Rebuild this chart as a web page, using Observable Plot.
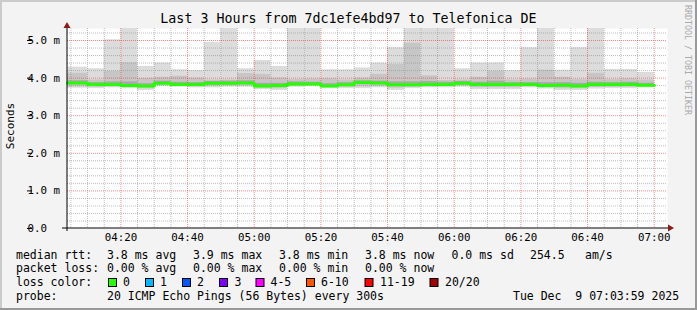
<!DOCTYPE html>
<html><head><meta charset="utf-8">
<script src="https://cdn.jsdelivr.net/npm/d3@7"></script>
<script src="https://cdn.jsdelivr.net/npm/@observablehq/plot@0.6"></script>
<style>
html,body{margin:0;padding:0;background:#f3f3f3;}
#chart{width:697px;height:310px;}
</style></head><body><div id="chart"></div>
<script>
// ---- data (ms) ----
const slotEnds = ["04:10","04:15","04:20","04:25","04:30","04:35","04:40","04:45","04:50","04:55",
  "05:00","05:05","05:10","05:15","05:20","05:25","05:30","05:35","05:40","05:45","05:50","05:55",
  "06:00","06:05","06:10","06:15","06:20","06:25","06:30","06:35","06:40","06:45","06:50","06:55","07:00"];
const maxRtt    = [4.29,4.25,5.02,5.33,4.31,4.40,4.22,4.20,4.95,5.33,4.25,4.47,4.31,5.33,5.33,4.22,4.22,4.27,4.40,4.81,5.33,5.33,5.33,4.25,4.40,4.40,4.20,4.81,5.33,4.21,4.81,5.33,4.23,4.23,4.15];
const upperMid  = [4.13,3.95,4.18,4.41,3.99,4.02,4.05,4.00,3.95,3.95,4.12,4.10,4.00,3.96,3.97,3.98,3.95,4.00,4.10,4.36,4.93,4.06,3.94,3.95,4.02,4.18,3.95,3.97,4.21,4.02,3.96,4.13,3.96,3.98,3.95];
const upperInner= [3.93,3.88,3.90,3.90,3.85,3.92,3.89,3.88,3.91,3.92,3.93,3.86,3.86,3.90,3.89,3.85,3.88,3.93,3.92,3.90,3.90,3.91,3.89,3.91,3.89,3.92,3.88,3.88,3.88,3.88,3.86,3.89,3.88,3.89,3.86];
const medianRtt = [3.87,3.83,3.83,3.80,3.79,3.86,3.83,3.83,3.86,3.86,3.87,3.79,3.80,3.84,3.84,3.79,3.82,3.88,3.87,3.82,3.82,3.83,3.83,3.86,3.83,3.83,3.83,3.83,3.80,3.81,3.79,3.83,3.83,3.83,3.81];
const lowerInner= [3.83,3.79,3.79,3.76,3.75,3.83,3.80,3.80,3.82,3.83,3.83,3.76,3.76,3.80,3.81,3.76,3.79,3.84,3.83,3.78,3.79,3.80,3.80,3.82,3.79,3.79,3.79,3.79,3.77,3.77,3.75,3.79,3.79,3.79,3.77];
const lowerMid  = [3.77,3.76,3.77,3.75,3.72,3.80,3.78,3.77,3.78,3.79,3.79,3.73,3.72,3.79,3.80,3.75,3.76,3.77,3.78,3.73,3.76,3.77,3.78,3.79,3.74,3.74,3.74,3.77,3.74,3.72,3.72,3.75,3.76,3.76,3.77];
const minRtt    = [3.73,3.72,3.74,3.72,3.67,3.78,3.76,3.74,3.74,3.76,3.76,3.69,3.67,3.76,3.78,3.72,3.72,3.72,3.74,3.67,3.72,3.74,3.74,3.76,3.69,3.69,3.69,3.74,3.71,3.67,3.67,3.71,3.72,3.72,3.74];
const yTicks = [0,1,2,3,4,5];
const yTickLabels = ["0.0","1.0 m","2.0 m","3.0 m","4.0 m","5.0 m"];
const titleText = "Last 3 Hours from 7dc1efe4bd97 to Telefonica DE";
const lossLabels = ["0","1","2","3","4-5","6-10","11-19","20/20"];
const lossColors = ["#26ff00","#00b8ff","#0059ff","#7e00ff","#ff00ff","#ff5500","#ff0000","#a10000"];

const day = "2025-12-09T";
const t = s => new Date(day + s + ":00Z");
const start = new Date("2025-12-09T04:03:59Z"), end = new Date("2025-12-09T07:03:59Z");
const data = slotEnds.map((e,i)=>({
  x1: i===0 ? start : t(slotEnds[i-1]), x2: t(e),
  max: maxRtt[i], um: upperMid[i], ui: upperInner[i], med: medianRtt[i],
  li: lowerInner[i], lm: lowerMid[i], min: minRtt[i]}));
const medLine = data.map(d=>({t:d.x1, v:d.med})).concat([{t:data[data.length-1].x2, v:data[data.length-1].med}]);

const yTop = 200/37.6;
const minorX = d3.utcMinute.every(5).range(start, end).filter(d=>d.getUTCMinutes()%20!==0);
const majorX = d3.utcMinute.every(20).range(start, end);
const minorY = d3.range(1, 27).map(i=>i/5).filter(v=>Math.abs(v-Math.round(v))>1e-6 && v<yTop);
const majorY = [1,2,3,4,5];

const plot = Plot.plot({
  width: 697, height: 310,
  marginLeft: 67, marginRight: 30, marginTop: 28, marginBottom: 82,
  style: {background: "#f3f3f3", fontFamily: "DejaVu Sans Mono", fontSize: "10.8px", color: "#000", overflow: "visible"},
  x: {type: "utc", domain: [start, end]},
  y: {domain: [0, yTop]},
  marks: [
    Plot.frame({fill: "white", stroke: "none"}),
    Plot.rect(data, {x1: "x1", x2: "x2", y1: "min", y2: "max", fill: "#dcdcdc", clip: true}),
    Plot.rect(data, {x1: "x1", x2: "x2", y1: "lm", y2: "um", fill: "#c6c6c6", clip: true}),
    Plot.rect(data, {x1: "x1", x2: "x2", y1: "li", y2: "ui", fill: "#a9a9a9", clip: true}),
    Plot.ruleX(minorX, {stroke: "#888", strokeOpacity: 0.55, strokeDasharray: "1,1"}),
    Plot.ruleY(minorY, {stroke: "#888", strokeOpacity: 0.55, strokeDasharray: "1,1"}),
    Plot.ruleX(majorX, {stroke: "#ff0000", strokeOpacity: 0.45, strokeDasharray: "1,1"}),
    Plot.ruleY(majorY, {stroke: "#ff0000", strokeOpacity: 0.45, strokeDasharray: "1,1"}),
    Plot.line(medLine, {x: "t", y: "v", curve: "step-after", stroke: "#26ff00", strokeWidth: 3}),
    Plot.axisX(majorX, {tickFormat: d3.utcFormat("%H:%M"), tickSize: 0, tickPadding: 5, fontSize: "10.8px"}),
    Plot.axisY(yTicks, {tickFormat: (d,i)=>yTickLabels[yTicks.indexOf(d)], tickSize: 5, tickPadding: 0, textAnchor: "start", dx: -35, fontSize: "10.8px"}),
  ]
});
document.getElementById("chart").appendChild(plot);

const svg = d3.select(plot);
const X = plot.scale("x"), Y = plot.scale("y");
const x0 = X.apply(start), x1 = X.apply(end), y0 = Y.apply(0), yT = Y.apply(yTop);
// axes lines
svg.append("line").attr("x1", x0-5).attr("x2", x1+2).attr("y1", y0).attr("y2", y0).attr("stroke","#000");
svg.append("line").attr("x1", x0).attr("x2", x0).attr("y1", y0+3).attr("y2", yT-3).attr("stroke","#000");
svg.append("path").attr("d", `M${x1+1},${y0-3.5}L${x1+7},${y0}L${x1+1},${y0+3.5}Z`).attr("fill","#8b1a1a");
svg.append("path").attr("d", `M${x0-3.5},${yT-0}L${x0},${yT-6}L${x0+3.5},${yT-0}Z`).attr("fill","#8b1a1a");
// border
svg.append("rect").attr("x",0).attr("y",0).attr("width",697).attr("height",2).attr("fill","#cbcbcb");
svg.append("rect").attr("x",0).attr("y",0).attr("width",2).attr("height",310).attr("fill","#cbcbcb");
svg.append("rect").attr("x",0).attr("y",308).attr("width",697).attr("height",2).attr("fill","#999");
svg.append("rect").attr("x",695).attr("y",0).attr("width",2).attr("height",310).attr("fill","#999");

const txt = (x, y, s, size, opts={}) => {
  const e = svg.append("text").attr("x", x).attr("y", y).attr("dy","0.35em")
    .attr("font-family","DejaVu Sans Mono").attr("font-size", size).attr("fill", opts.fill||"#000")
    .attr("text-anchor", opts.anchor||"start").style("white-space","pre").text(s);
  if (opts.rotate) e.attr("transform", `rotate(${opts.rotate},${x},${y})`);
  return e;
};
txt(348.5, 18.5, titleText, "13.3px", {anchor: "middle"});
txt(10, 126, "Seconds", "11px", {anchor: "middle", rotate: -90});
txt(688, 5, "RRDTOOL / TOBI OETIKER", "8.3px", {fill: "#aaa", rotate: 90});

const LS = "11.5px";
const rows = [254.7, 268, 282.3, 296];
txt(16, rows[0], "median rtt:", LS);
txt(107, rows[0], "3.8 ms avg", LS);
txt(193, rows[0], "3.9 ms max", LS);
txt(279, rows[0], "3.8 ms min", LS);
txt(365, rows[0], "3.8 ms now", LS);
txt(451.5, rows[0], "0.0 ms sd", LS);
txt(530, rows[0], "254.5", LS);
txt(585, rows[0], "am/s", LS);
txt(16, rows[1], "packet loss:", LS);
txt(107, rows[1], "0.00 % avg", LS);
txt(193, rows[1], "0.00 % max", LS);
txt(279, rows[1], "0.00 % min", LS);
txt(365, rows[1], "0.00 % now", LS);
txt(16, rows[2], "loss color:", LS);
const boxX = [108.5, 145.5, 182.5, 219.5, 256, 306.5, 365, 430];
const labX = [123, 160, 197, 234.5, 270.5, 321, 380, 445];
lossLabels.forEach((l,i)=>{
  svg.append("rect").attr("x", boxX[i]).attr("y", 278.5).attr("width", 8).attr("height", 8)
    .attr("fill", lossColors[i]).attr("stroke", "#000");
  txt(labX[i], rows[2], l, LS);
});
txt(16, rows[3], "probe:", LS);
txt(107, rows[3], "20 ICMP Echo Pings (56 Bytes) every 300s", LS);
txt(513, rows[3], "Tue Dec  9 07:03:59 2025", LS);
</script></body></html>
